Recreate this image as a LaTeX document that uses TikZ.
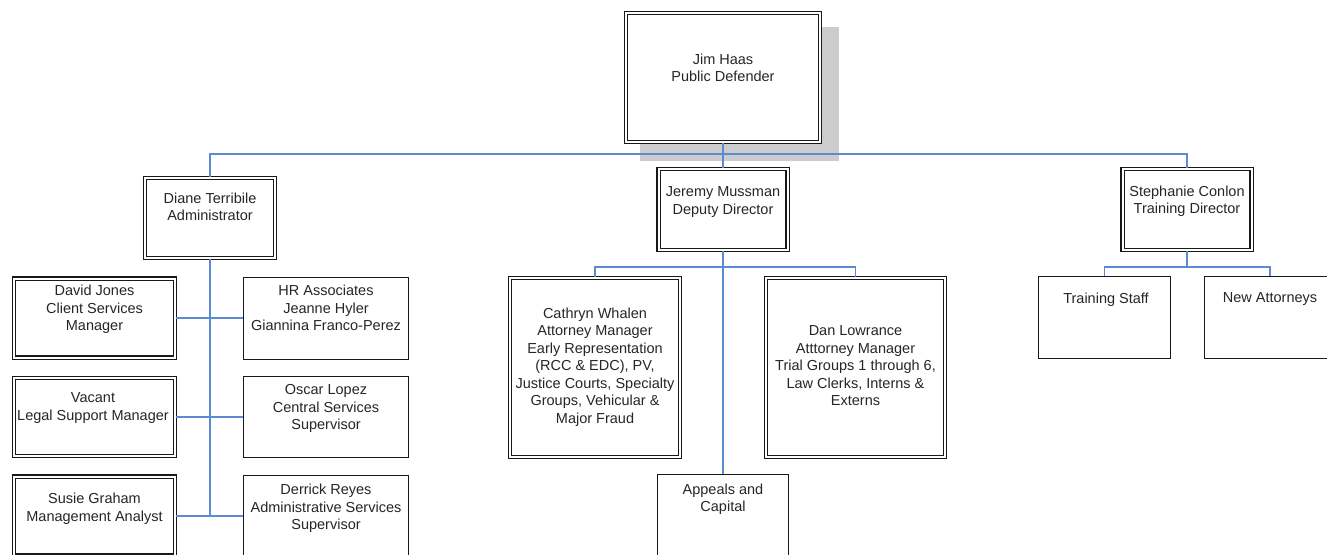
\documentclass[tikz,border=0pt]{standalone}
\usepackage{fontspec}
\setmainfont{Liberation Sans}
\usepackage{tikz}
\usetikzlibrary{positioning}
\definecolor{lineblue}{RGB}{92,139,212}

\begin{document}
\begin{tikzpicture}[x=1pt,y=-1pt,
	conn/.style={draw=lineblue, line width=1.5pt},
	dblbox/.style={draw=black!90, line width=1.1pt, double=white, double distance=2pt, fill=white, inner sep=0pt},
	onebox/.style={draw=black!90, line width=1pt, fill=white, inner sep=0pt},
	txt/.style={align=center, inner sep=0pt, text=black!85, font=\fontsize{14.5}{17.5}\selectfont}]
	
	\useasboundingbox (0,0) rectangle (1327,554);
	
	% Draw the shadow of the top box
	\fill[black!20] (640,27) rectangle (839,161);
	
	% Draw the boxes
	\node[dblbox, minimum width=194pt, minimum height=129pt] (haas) at (723,77.5) {};
	\node[dblbox, minimum width=130pt, minimum height=80pt] (terribile) at (210,218) {};
	\node[dblbox, minimum width=129pt, minimum height=81pt] (mussman) at (723,209.5) {};
	\node[dblbox, minimum width=129pt, minimum height=81pt] (conlon) at (1187,209.5) {};
	\node[onebox, minimum width=132pt, minimum height=82pt] (trainstaff) at (1104.5,317.5) {};
	\node[onebox, minimum width=132pt, minimum height=82pt] (newatty) at (1270,317.5) {};
	\node[dblbox, minimum width=161pt, minimum height=79pt] (jones) at (94.5,318) {};
	\node[onebox, minimum width=165pt, minimum height=82pt] (hr) at (326,318) {};
	\node[dblbox, minimum width=161pt, minimum height=78pt] (vacant) at (94.5,417) {};
	\node[onebox, minimum width=165pt, minimum height=81pt] (lopez) at (326,417) {};
	\node[dblbox, minimum width=161pt, minimum height=79pt] (graham) at (94.5,516) {};
	\node[onebox, minimum width=165pt, minimum height=82pt] (reyes) at (326,516) {};
	\node[dblbox, minimum width=170pt, minimum height=179pt] (whalen) at (595,367.5) {};
	\node[dblbox, minimum width=179pt, minimum height=179pt] (lowrance) at (855.5,367.5) {};
	\node[onebox, minimum width=131pt, minimum height=82pt] (appeals) at (723,515.5) {};
	
	% Draw the texts
	\node[txt, below=41pt of haas.north] (haastxt) {Jim Haas\\Public Defender};
	\node[txt, below=15pt of terribile.north] (terribiletxt) {Diane Terribile\\Administrator};
	\node[txt, below=18pt of mussman.north] (mussmantxt) {Jeremy Mussman\\Deputy Director};
	\node[txt, below=17pt of conlon.north] (conlontxt) {Stephanie Conlon\\Training Director};
	\node[txt, below=16.5pt of trainstaff.north, xshift=1.5pt] (trainstafftxt) {Training Staff};
	\node[txt, below=16.5pt of newatty.north] (newattytxt) {New Attorneys};
	\node[txt, below=7pt of jones.north] (jonestxt) {David Jones\\Client Services\\Manager};
	\node[txt, below=8.5pt of hr.north] (hrtxt) {HR Associates\\Jeanne Hyler\\Giannina Franco-Perez};
	\node[txt, below=15pt of vacant.north, xshift=-1.5pt] (vacanttxt) {Vacant\\Legal Support Manager};
	\node[txt, below=8.5pt of lopez.north] (lopeztxt) {Oscar Lopez\\Central Services\\Supervisor};
	\node[txt, below=17pt of graham.north] (grahamtxt) {Susie Graham\\Management Analyst};
	\node[txt, below=9.5pt of reyes.north] (reyestxt) {Derrick Reyes\\Administrative Services\\Supervisor};
	\node[txt, below=30pt of whalen.north] (whalentxt) {Cathryn Whalen\\Attorney Manager\\Early Representation\\(RCC \& EDC), PV,\\Justice Courts, Specialty\\Groups, Vehicular \&\\Major Fraud};
	\node[txt, below=48pt of lowrance.north] (lowrancetxt) {Dan Lowrance\\Atttorney Manager\\Trial Groups 1 through 6,\\Law Clerks, Interns \&\\Externs};
	\node[txt, below=9.5pt of appeals.north] (appealstxt) {Appeals and\\Capital};
	
	% Draw the connectors
	\coordinate (topbus) at (723,154);
	\coordinate (midbus) at (723,267);
	\coordinate (rightbus) at (1187,267);
	\draw[conn] (haas.south) -- (mussman.north);
	\draw[conn] (terribile.north) |- (topbus) -| (conlon.north);
	\draw[conn] (terribile.south) -- (terribile.south |- graham.east);
	\draw[conn] (jones.east) -- (hr.west);
	\draw[conn] (vacant.east) -- (lopez.west);
	\draw[conn] (graham.east) -- (reyes.west);
	\draw[conn] (mussman.south) -- (appeals.north);
	\draw[conn] (whalen.north) |- (midbus) -| (lowrance.north);
	\draw[conn] (conlon.south) -- (rightbus);
	\draw[conn] (trainstaff.north) |- (rightbus) -| (newatty.north);

\end{tikzpicture}
\end{document}
